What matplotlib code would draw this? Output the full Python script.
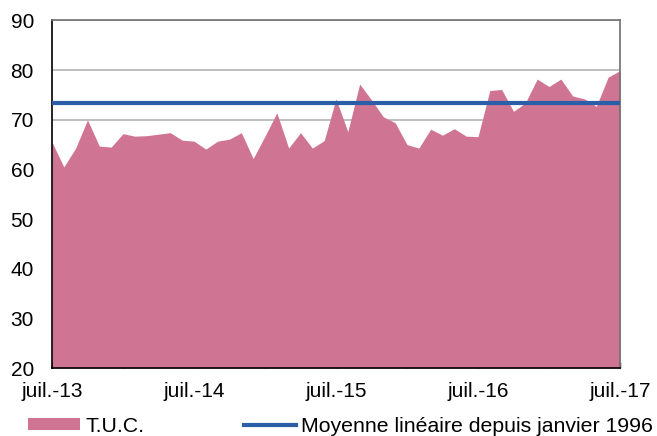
import numpy as np
import pandas as pd
import matplotlib
matplotlib.use('Agg')
import matplotlib.pyplot as plt
from matplotlib.patches import Patch
from matplotlib.lines import Line2D

plt.rcParams['font.family'] = ['Liberation Sans', 'DejaVu Sans']

# Monthly T.U.C. values, July 2013 to July 2017
months = pd.date_range('2013-07-01', '2017-07-01', freq='MS')
tuc = [65.5, 60.5, 64.3, 70.0, 64.7, 64.5, 67.2, 66.7, 66.8, 67.1, 67.4, 65.9,
       65.7, 64.1, 65.7, 66.1, 67.4, 62.2, 66.7, 71.4, 64.3, 67.4, 64.3, 65.8,
       74.2, 67.6, 77.2, 74.0, 70.6, 69.4, 65.0, 64.3, 68.1, 66.9, 68.2, 66.7,
       66.6, 75.9, 76.1, 71.7, 73.4, 78.2, 76.7, 78.2, 74.8, 74.2, 72.7, 78.6,
       79.9]
mean_level = 73.3
tick_labels = ['juil.-13', 'juil.-14', 'juil.-15', 'juil.-16', 'juil.-17']

x = np.arange(len(months))

fig = plt.figure(figsize=(6.57, 4.36), dpi=100)
ax = fig.add_axes([52 / 657, 1 - 368 / 436, (620 - 52) / 657, (368 - 20.5) / 436])

ax.set_ylim(20, 90)
ax.set_xlim(0, len(months) - 1)
ax.set_yticks(range(20, 91, 10))
ax.yaxis.grid(True, color='#b4b4b4', linewidth=1.2, zorder=0)
ax.set_axisbelow(True)

ax.fill_between(x, 20, tuc, color='#d07494', linewidth=0, zorder=2)
ax.axhline(mean_level, color='#2a5fa8', linewidth=3, zorder=3)

ax.set_xticks(x[::6])
ax.set_xticklabels(['' if i % 12 else tick_labels[i // 12] for i in range(0, len(x), 6)])
ax.tick_params(axis='x', direction='in', length=4, width=1, pad=10, labelsize=15)
ax.tick_params(axis='y', length=0, pad=13, labelsize=15)

for s in ['left', 'bottom']:
    ax.spines[s].set_color('black')
    ax.spines[s].set_linewidth(1.2)
for s in ['top', 'right']:
    ax.spines[s].set_color('#707070')
    ax.spines[s].set_linewidth(1.2)

handles = [Patch(facecolor='#d07494', edgecolor='none'),
           Line2D([0], [0], color='#2a5fa8', linewidth=3)]
fig.legend(handles, ['T.U.C.', 'Moyenne linéaire depuis janvier 1996'],
           loc='center left', bbox_to_anchor=(28 / 657, 1 - 426 / 436), ncol=2,
           frameon=False, fontsize=15.3, handlelength=2.45, handleheight=0.55,
           handletextpad=0.27, columnspacing=4.65, borderpad=0, borderaxespad=0)

fig.savefig('out.png', dpi=100)
